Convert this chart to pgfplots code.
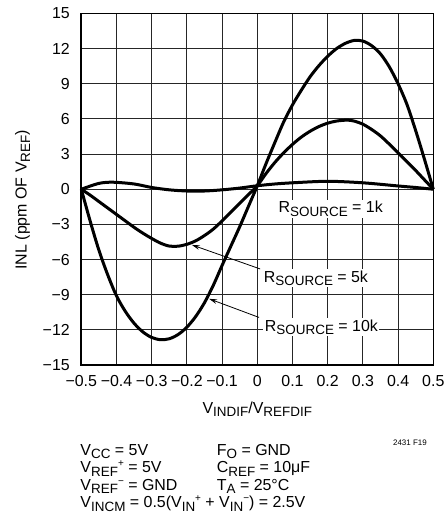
\documentclass[border=0pt]{standalone}
\usepackage{fontspec}
\setmainfont{Liberation Sans}
\usepackage{pgfplots}
\pgfplotsset{compat=1.18}
\usetikzlibrary{arrows.meta}

\newcommand{\sub}[1]{\raisebox{-3.5bp}{\fontsize{13.5}{14}\selectfont #1}}
\newcommand{\sups}[1]{\raisebox{6bp}{\fontsize{10}{10}\selectfont #1}}

\begin{document}
\fontsize{16}{18}\selectfont
\begin{tikzpicture}[font=\fontsize{16}{18}\selectfont]
\begin{axis}[
  scale only axis,
  width=352bp, height=351.5bp,
  xmin=-0.5, xmax=0.5, ymin=-15, ymax=15,
  xtick={-0.5,-0.4,-0.3,-0.2,-0.1,0,0.1,0.2,0.3,0.4,0.5},
  xticklabels={−0.5,−0.4,−0.3,−0.2,−0.1,0,0.1,0.2,0.3,0.4,0.5},
  ytick={-15,-12,-9,-6,-3,0,3,6,9,12,15},
  yticklabels={−15,−12,−9,−6,−3,0,3,6,9,12,15},
  grid=major,
  major grid style={black!85, line width=1bp},
  axis line style={line width=1.6bp},
  major tick length=0pt,
  tick label style={font=\fontsize{16}{18}\selectfont},
  xticklabel style={yshift=-5bp},
  yticklabel style={xshift=-6bp},
  xlabel={V\sub{INDIF}/V\sub{REFDIF}},
  xlabel style={at={(axis description cs:0.5,0)}, anchor=base, yshift=-48bp},
  ylabel={INL (ppm OF V\sub{REF})},
  ylabel style={at={(axis description cs:-0.167,0.47)}, anchor=center},
  clip=false,
]
% R_SOURCE = 10k
\addplot[black, line width=3bp, smooth] coordinates {
  (-0.5,0) (-0.475,-2.7) (-0.45,-5.2) (-0.425,-7.3) (-0.4,-9.1)
  (-0.375,-10.42) (-0.35,-11.44) (-0.325,-12.18) (-0.3,-12.65)
  (-0.275,-12.84) (-0.25,-12.76) (-0.225,-12.4) (-0.2,-11.77)
  (-0.175,-10.86) (-0.15,-9.68) (-0.125,-8.2) (-0.1,-6.5) (-0.075,-4.85)
  (-0.05,-3.2) (-0.025,-1.45) (0,0.3) (0.025,2.2) (0.05,4.0) (0.075,5.75)
  (0.1,7.2) (0.125,8.45) (0.15,9.6) (0.175,10.55) (0.2,11.35) (0.225,12.0)
  (0.25,12.45) (0.275,12.7) (0.3,12.65) (0.325,12.25) (0.35,11.55)
  (0.375,10.45) (0.4,9.0) (0.425,7.25) (0.45,5.0) (0.475,2.55) (0.5,0)
};
% R_SOURCE = 5k
\addplot[black, line width=3bp, smooth] coordinates {
  (-0.5,0) (-0.475,-0.5) (-0.45,-1.05) (-0.425,-1.6) (-0.4,-2.15)
  (-0.375,-2.7) (-0.35,-3.25) (-0.325,-3.75) (-0.3,-4.2) (-0.275,-4.6)
  (-0.25,-4.85) (-0.225,-4.86) (-0.2,-4.7) (-0.175,-4.4) (-0.15,-3.95)
  (-0.125,-3.4) (-0.1,-2.7) (-0.075,-1.95) (-0.05,-1.2) (-0.025,-0.45)
  (0,0.3) (0.025,1.35) (0.05,2.29) (0.075,3.11) (0.1,3.83) (0.125,4.45)
  (0.15,4.95) (0.175,5.35) (0.2,5.64) (0.225,5.82) (0.255,5.9) (0.275,5.82)
  (0.3,5.55) (0.325,5.1) (0.35,4.55) (0.375,3.85) (0.4,3.1) (0.425,2.35)
  (0.45,1.6) (0.475,0.8) (0.5,0)
};
% R_SOURCE = 1k
\addplot[black, line width=3bp, smooth] coordinates {
  (-0.5,0) (-0.45,0.5) (-0.41,0.6) (-0.35,0.45) (-0.3,0.15) (-0.25,-0.05)
  (-0.2,-0.15) (-0.15,-0.15) (-0.1,-0.05) (-0.05,0.1) (0,0.3) (0.05,0.45)
  (0.1,0.55) (0.2,0.68) (0.3,0.55) (0.4,0.28) (0.45,0.15) (0.5,0)
};
\node[fill=white, inner sep=1.5bp, anchor=base west] at (axis cs:0.056,-2.0) {R\sub{SOURCE} = 1k};
\node[fill=white, inner sep=1.5bp, anchor=base west] at (axis cs:0.014,-7.93) {R\sub{SOURCE} = 5k};
\node[fill=white, inner sep=1.5bp, anchor=base west] at (axis cs:0.017,-12.1) {R\sub{SOURCE} = 10k};
\draw[line width=0.8bp, -{Stealth[length=8bp,width=4.5bp]}] (axis cs:0.008,-6.8) -- (axis cs:-0.186,-4.75);
\draw[line width=0.8bp, -{Stealth[length=8bp,width=4.5bp]}] (axis cs:0.005,-10.94) -- (axis cs:-0.137,-9.35);
\end{axis}
\node[anchor=base east, font=\fontsize{8}{9}\selectfont] at ([shift={(-1bp,-80bp)}]current axis.south east) {2431 F19};
\node[anchor=base west, inner sep=0pt] at ([shift={(-1bp,-90bp)}]current axis.south west) {V\sub{CC} = 5V};
\node[anchor=base west, inner sep=0pt] at ([shift={(-1bp,-107.5bp)}]current axis.south west) {V\sub{REF}\sups{+} = 5V};
\node[anchor=base west, inner sep=0pt] at ([shift={(-1bp,-125bp)}]current axis.south west) {V\sub{REF}\sups{−} = GND};
\node[anchor=base west, inner sep=0pt] at ([shift={(-1bp,-142.5bp)}]current axis.south west) {V\sub{INCM} = 0.5(V\sub{IN}\sups{+} + V\sub{IN}\sups{−}) = 2.5V};
\node[anchor=base west, inner sep=0pt] at ([shift={(135.4bp,-90bp)}]current axis.south west) {F\sub{O} = GND};
\node[anchor=base west, inner sep=0pt] at ([shift={(135.4bp,-107.5bp)}]current axis.south west) {C\sub{REF} = 10μF};
\node[anchor=base west, inner sep=0pt] at ([shift={(135.4bp,-125bp)}]current axis.south west) {T\sub{A} = 25°C};
\pgfresetboundingbox
\path[use as bounding box] ([shift={(-81.3bp,-158bp)}]current axis.south west) rectangle ++(448bp,523bp);
\end{tikzpicture}
\end{document}
